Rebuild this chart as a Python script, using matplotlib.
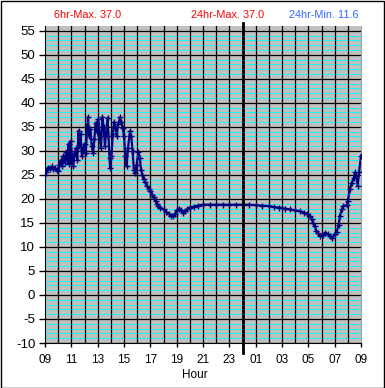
import matplotlib
matplotlib.use("Agg")
import matplotlib.pyplot as plt
from matplotlib.patches import Rectangle
import numpy as np

# hours since 09:00
hours = [0.00, 0.10, 0.20, 0.35, 0.50, 0.60, 0.75, 0.90, 1.00, 1.10, 1.20, 1.30, 1.40, 1.50,
         1.60, 1.70, 1.80, 1.85, 1.95, 2.05, 2.15, 2.25, 2.35, 2.45, 2.55, 2.62, 2.70, 2.80,
         2.90, 3.00, 3.10, 3.20, 3.27, 3.35, 3.45, 3.55, 3.65, 3.75, 3.85, 3.95, 4.05, 4.15,
         4.25, 4.35, 4.45, 4.55, 4.65, 4.75, 4.82, 4.90, 4.95, 5.05, 5.15, 5.25, 5.35, 5.45,
         5.55, 5.70, 5.80, 5.90, 6.00, 6.10, 6.20, 6.30, 6.45, 6.55, 6.65, 6.75, 6.85, 6.95,
         7.10, 7.20, 7.30, 7.40, 7.50, 7.60, 7.75, 7.90, 8.00, 8.15, 8.25, 8.40, 8.50, 8.60,
         8.75, 9.00, 9.20, 9.40, 9.60, 9.70, 9.85, 10.00, 10.15, 10.30, 10.50, 10.65, 10.80,
         11.00, 11.30, 11.60, 12.00, 12.50, 13.00, 13.50, 14.00, 14.50, 15.00, 15.50, 16.00,
         16.50, 17.00, 17.40, 17.80, 18.20, 18.60, 19.00, 19.40, 19.70, 19.90, 20.10, 20.25,
         20.35, 20.50, 20.60, 20.75, 20.90, 21.10, 21.30, 21.50, 21.65, 21.80, 22.00, 22.15,
         22.30, 22.40, 22.55, 22.65, 22.90, 23.00, 23.15, 23.30, 23.45, 23.55, 23.65, 23.75,
         23.85, 24.00]
temps = [25.0, 25.5, 26.5, 26.2, 26.8, 26.3, 26.5, 26.0, 25.8, 27.0, 28.0, 26.8, 29.0, 27.5,
         29.8, 28.0, 31.5, 27.2, 32.0, 29.0, 26.8, 29.5, 30.5, 28.0, 34.2, 31.0, 33.5, 28.9,
         30.0, 31.5, 29.5, 35.0, 37.0, 33.0, 34.5, 31.0, 29.6, 32.5, 35.9, 34.0, 36.6, 33.0,
         30.5, 37.0, 35.0, 31.0, 34.0, 36.9, 33.0, 28.5, 26.5, 29.0, 33.5, 36.0, 35.0, 33.0,
         35.5, 37.0, 36.0, 34.7, 33.0, 29.0, 26.8, 30.5, 34.1, 33.0, 30.0, 26.0, 25.3, 27.0,
         29.8, 28.5, 26.0, 25.0, 24.1, 23.5, 22.7, 22.0, 21.6, 20.8, 20.3, 19.6, 19.0, 18.6,
         18.2, 17.8, 17.3, 16.9, 16.5, 16.4, 16.8, 17.6, 18.0, 17.6, 17.0, 17.4, 17.8,
         18.2, 18.4, 18.6, 18.8, 18.8, 18.8, 18.8, 18.8, 18.8, 18.8, 18.8, 18.7,
         18.6, 18.5, 18.3, 18.2, 18.0, 17.8, 17.6, 17.4, 17.1, 16.9, 16.4, 15.8,
         15.0, 14.3, 13.3, 12.8, 12.3, 12.4, 13.0, 12.6, 12.3, 11.8, 12.6, 13.2,
         14.5, 16.5, 17.8, 18.5, 18.7, 19.5, 22.0, 23.4, 24.3, 25.5, 24.8, 22.7,
         25.5, 29.0]

xtick_labels = ["09", "11", "13", "15", "17", "19", "21", "23", "01", "03", "05", "07", "09"]
ytick_values = list(range(-10, 56, 5))
txt_6hr = "6hr-Max. 37.0"
txt_24max = "24hr-Max. 37.0"
txt_24min = "24hr-Min. 11.6"

W, H = 385, 388
fig = plt.figure(figsize=(W / 100, H / 100), dpi=100)
fig.patch.set_facecolor("white")
plt.rcParams["font.family"] = ["Liberation Sans", "DejaVu Sans"]

L, R, T, B = 45, 361, 26, 343
ax = fig.add_axes([L / W, 1 - B / H, (R - L) / W, (B - T) / H])
ax.set_facecolor("#c0c0c0")
ax.set_xlim(0, 24)
ax.set_ylim(-10, 56)

# minor cyan lines
for v in range(-9, 56):
    if v % 5 != 0:
        ax.axhline(v, color="#00ffff", lw=0.65, zorder=1)
for v in ytick_values:
    ax.axhline(v, color="black", lw=0.9, zorder=1.5)
for h in range(1, 24):
    ax.axvline(h, color="black", lw=0.9, zorder=1.5)

ax.plot(hours, temps, color="#000080", lw=1.6, marker="+", ms=4, mew=1.0, zorder=3)

# midnight line
ax.axvline(15, ymin=-0.032, ymax=1.01, color="black", lw=2.0, zorder=4, clip_on=False)

ax.set_yticks(ytick_values)
ax.set_yticklabels([str(v) for v in ytick_values], fontsize=9.5)
ax.set_xticks(range(0, 25, 2))
ax.set_xticklabels(xtick_labels, fontsize=8.5)
ax.tick_params(axis="y", direction="out", length=4, width=1, pad=3)
ax.tick_params(axis="x", direction="out", length=3, width=1, pad=5)

ax.spines["top"].set_visible(False)
ax.spines["right"].set_color("#a0a0a0")
ax.spines["left"].set_color("black")
ax.spines["bottom"].set_color("black")

fig.text(195 / W, 1 - 375 / H, "Hour", ha="center", va="center", fontsize=8.5)
fig.text(88 / W, 1 - 15 / H, txt_6hr, ha="center", va="center", fontsize=7.8, color="#ff0000")
fig.text(228 / W, 1 - 15 / H, txt_24max, ha="center", va="center", fontsize=7.8, color="#ff0000")
fig.text(324 / W, 1 - 15 / H, txt_24min, ha="center", va="center", fontsize=7.8, color="#3366ff")

fig.patches.append(Rectangle((0.5 / W, 0.5 / H), (W - 1.5) / W, (H - 1.5) / H,
                             transform=fig.transFigure, fill=False, edgecolor="black", lw=1))

fig.savefig("out.png", dpi=100)
